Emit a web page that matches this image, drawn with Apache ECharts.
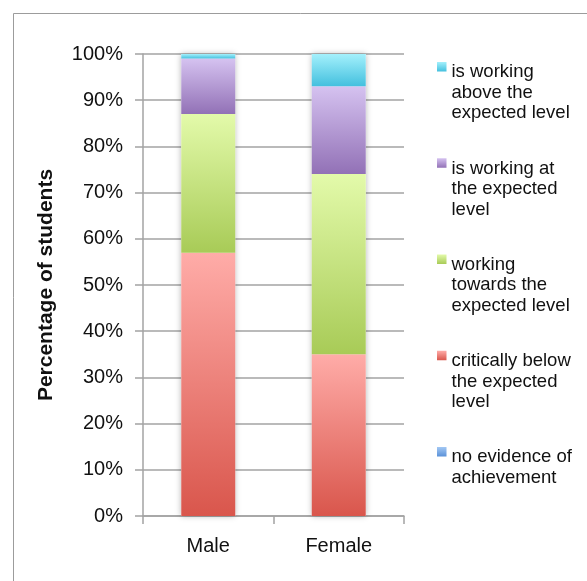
<!DOCTYPE html>
<html>
<head>
<meta charset="utf-8">
<title>Percentage of students by gender</title>
<script src="https://cdn.jsdelivr.net/npm/echarts@6/dist/echarts.min.js"></script>
<style>
  html, body { margin: 0; padding: 0; background: #fff; }
  #chart { width: 587px; height: 581px; }
</style>
</head>
<body>
<div id="chart"></div>
<script>
// Categories on the x axis
const genders = ['Male', 'Female'];

// Achievement levels, bottom of the stack first
const levelNames = [
  'no evidence of achievement',
  'critically below the expected level',
  'working towards the expected level',
  'is working at the expected level',
  'is working above the expected level'
];
// Legend wording, wrapped into lines (padded to three lines each)
const levelLabels = [
  'no evidence of\nachievement\n ',
  'critically below\nthe expected\nlevel',
  'working\ntowards the\nexpected level',
  'is working at\nthe expected\nlevel',
  'is working\nabove the\nexpected level'
];

// Percentage of students at each level (Male, Female)
const noEvidence = [0, 0];
const criticallyBelow = [57, 35];
const workingTowards = [30, 39];
const workingAt = [12, 19];
const workingAbove = [1, 7];

const levelValues = [noEvidence, criticallyBelow, workingTowards, workingAt, workingAbove];

// y axis ticks
const yTicks = [0, 10, 20, 30, 40, 50, 60, 70, 80, 90, 100];

// Fill colours per level: [top, bottom] of each segment gradient
const levelColors = [
  ['#a3c8f4', '#5a91d8'],
  ['#ffaca8', '#d9564c'],
  ['#e3faaa', '#a8cb57'],
  ['#d5c2f0', '#9271b6'],
  ['#a4f0fc', '#43c0de']
];

const grad = (c, end) => new echarts.graphic.LinearGradient(0, 0, 0, 1, [
  { offset: 0, color: c[0] },
  { offset: end, color: c[1] },
  { offset: 1, color: c[1] }
]);

const axisGray = '#a3a3a3';
const font = '"Liberation Sans", Arial, Helvetica, sans-serif';
const BAR_W = 54;

// Legend swatch: a 9px square at the top of a tall icon box so it lines up with the first text line
const SWATCH = 9.5;
const legendIconH = 61.5;
const swatchEnd = SWATCH / legendIconH;

// Column totals for the shadow layer behind each stacked bar
const totals = genders.map((_, i) => levelValues.reduce((s, arr) => s + arr[i], 0));

const series = [{
  name: 'shadow',
  type: 'bar',
  data: totals,
  barWidth: BAR_W,
  barGap: '-100%',
  silent: true,
  itemStyle: {
    color: '#ffffff',
    shadowBlur: 6,
    shadowColor: 'rgba(0,0,0,0.28)',
    shadowOffsetX: 0,
    shadowOffsetY: 0
  },
  z: 1
}];

levelNames.forEach((name, k) => {
  series.push({
    name: name,
    type: 'bar',
    stack: 'levels',
    data: levelValues[k],
    barWidth: BAR_W,
    barGap: '-100%',
    itemStyle: { color: grad(levelColors[k], 1) },
    z: 2
  });
});

const legendData = levelNames.map((name, k) => ({
  name: name,
  itemStyle: { color: grad(levelColors[k], swatchEnd) }
})).reverse();

const chart = echarts.init(document.getElementById('chart'), null, { renderer: 'canvas' });
chart.setOption({
  animation: false,
  backgroundColor: '#ffffff',
  graphic: [{
    type: 'rect',
    shape: { x: 13.5, y: 13.5, width: 800, height: 800 },
    style: { fill: 'none', stroke: '#9c9c9c', lineWidth: 1 },
    silent: true,
    z: 0
  }],
  grid: { left: 143, right: 183, top: 54, bottom: 65, containLabel: false },
  legend: {
    orient: 'vertical',
    left: 437,
    top: 62,
    padding: 0,
    itemWidth: SWATCH,
    itemHeight: legendIconH,
    itemGap: 34.75,
    icon: 'path://M0,0h9.5v9.5h-9.5z M0,61.49h0.01v0.01h-0.01z',
    data: legendData,
    formatter: (name) => levelLabels[levelNames.indexOf(name)],
    textStyle: {
      fontFamily: font,
      fontSize: 18.5,
      lineHeight: 20.5,
      color: '#111'
    },
    selectedMode: false
  },
  xAxis: {
    type: 'category',
    data: genders,
    axisLine: { show: true, lineStyle: { color: axisGray, width: 1.5 } },
    axisTick: { show: true, length: 8, alignWithLabel: false, lineStyle: { color: axisGray, width: 1.5 } },
    axisLabel: { fontFamily: font, fontSize: 20, color: '#111', margin: 20 },
    splitLine: { show: false }
  },
  yAxis: {
    type: 'value',
    min: yTicks[0],
    max: yTicks[yTicks.length - 1],
    interval: yTicks[1] - yTicks[0],
    name: 'Percentage of students',
    nameLocation: 'middle',
    nameGap: 86,
    nameRotate: 90,
    nameTextStyle: { fontFamily: font, fontSize: 21, fontWeight: 'bold', color: '#111' },
    axisLine: { show: true, lineStyle: { color: axisGray, width: 1.5 } },
    axisTick: { show: true, length: 8, inside: false, lineStyle: { color: axisGray, width: 1.5 } },
    axisLabel: { fontFamily: font, fontSize: 20, color: '#111', margin: 20, formatter: '{value}%' },
    splitLine: { show: true, lineStyle: { color: axisGray, width: 1.5 } }
  },
  series: series
});
</script>
</body>
</html>
